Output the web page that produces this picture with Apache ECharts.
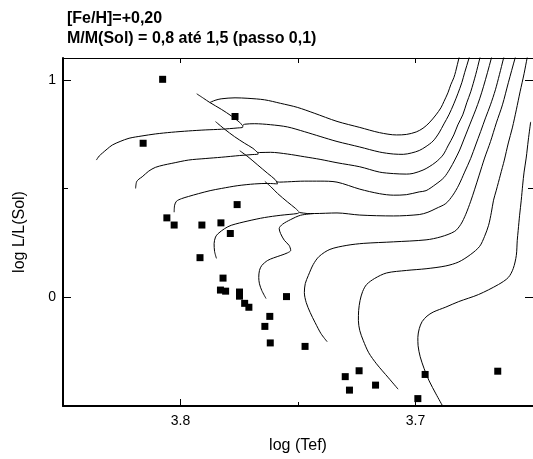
<!DOCTYPE html>
<html>
<head>
<meta charset="utf-8">
<script src="https://cdn.jsdelivr.net/npm/echarts@6/dist/echarts.min.js"></script>
<style>
html,body{margin:0;padding:0;background:#fff;}
#chart{width:533px;height:459px;}
</style>
</head>
<body>
<div id="chart"></div>
<script>
const titleLines = ['[Fe/H]=+0,20', 'M/M(Sol) = 0,8 até 1,5 (passo 0,1)'];
const xTickLabels = [3.8, 3.7];
const xMinorTicks = [3.75];
const yTickLabels = [0, 1];
const yMinorTicks = [0.5];

// observed stars [log Tef, log L/L(Sol)]
const stars = [
  [3.8076,1.002],[3.8159,0.708],[3.7768,0.831],[3.7759,0.426],[3.7909,0.332],[3.7828,0.342],
  [3.8058,0.365],[3.8027,0.332],[3.7788,0.293],[3.7917,0.182],[3.7819,0.088],[3.7830,0.033],
  [3.7808,0.028],[3.7749,0.024],[3.7749,0.005],[3.7727,-0.028],[3.7709,-0.046],[3.7549,0.003],
  [3.7620,-0.088],[3.7641,-0.134],[3.7618,-0.210],[3.7470,-0.226],[3.7299,-0.365],[3.7240,-0.338],
  [3.7281,-0.427],[3.7170,-0.404],[3.6959,-0.355],[3.6990,-0.466],[3.6650,-0.340]
];

// evolution tracks, one per mass
const track08 = [[3.6883,-0.503],[3.6913,-0.4444],[3.6942,-0.3844],[3.6963,-0.3290],[3.6980,-0.2737],[3.6989,-0.2229],[3.6990,-0.1846],[3.6984,-0.1445],[3.6972,-0.1121],[3.6951,-0.0868],[3.6925,-0.0683],[3.6871,-0.0452],[3.6816,-0.0199],[3.6732,0.0124],[3.6647,0.0586],[3.6605,0.0909],[3.6584,0.1324],[3.6571,0.1924],[3.6567,0.2616],[3.6563,0.3078],[3.6557,0.3770],[3.6550,0.4462],[3.6544,0.5154],[3.6538,0.5754],[3.6529,0.6400],[3.6520,0.7231],[3.6510,0.8062]];
const track09 = [[3.7074,-0.4227],[3.7115,-0.3706],[3.7166,-0.3060],[3.7199,-0.2552],[3.7222,-0.1998],[3.7237,-0.1537],[3.7243,-0.1075],[3.7242,-0.0614],[3.7236,-0.0152],[3.7225,0.0263],[3.7208,0.0586],[3.7174,0.0863],[3.7123,0.1117],[3.7039,0.1232],[3.6955,0.1311],[3.6871,0.1440],[3.6816,0.1624],[3.6765,0.1970],[3.6727,0.2340],[3.6706,0.2801],[3.6689,0.3309],[3.6677,0.3909],[3.6668,0.4462],[3.6656,0.4924],[3.6639,0.5616],[3.6622,0.6308],[3.6605,0.7093],[3.6588,0.7785],[3.6571,0.8616],[3.6555,0.9446],[3.6538,1.0277],[3.6525,1.1001],[3.6519,1.1292]];
const track10 = [[3.7376,-0.2044],[3.7402,-0.1675],[3.7427,-0.1168],[3.7448,-0.0706],[3.7465,-0.0245],[3.7473,0.0217],[3.7469,0.0632],[3.7456,0.1001],[3.7435,0.1509],[3.7410,0.1878],[3.7364,0.2201],[3.7292,0.2386],[3.7220,0.2478],[3.7094,0.2547],[3.6955,0.2639],[3.6892,0.2778],[3.6833,0.3032],[3.6807,0.3355],[3.6786,0.3816],[3.6765,0.4416],[3.6748,0.4970],[3.6729,0.5616],[3.6706,0.6400],[3.6681,0.7153],[3.6656,0.8016],[3.6630,0.8846],[3.6605,0.9862],[3.6576,1.1001],[3.6567,1.1292]];
const track11 = [[3.7847,0.1786],[3.7855,0.2109],[3.7857,0.2464],[3.7851,0.2769],[3.7840,0.2926],[3.7812,0.3156],[3.7784,0.3309],[3.7713,0.3507],[3.7643,0.3664],[3.7573,0.3770],[3.7503,0.3849],[3.7494,0.3895],[3.7461,0.3849],[3.7431,0.3849],[3.7334,0.3876],[3.7237,0.3779],[3.7094,0.3738],[3.6984,0.3802],[3.6947,0.3909],[3.6913,0.4079],[3.6871,0.4310],[3.6841,0.4693],[3.6816,0.5154],[3.6791,0.5754],[3.6765,0.6387],[3.6744,0.7000],[3.6723,0.7614],[3.6702,0.8246],[3.6681,0.8846],[3.6660,0.9538],[3.6643,1.0231],[3.6625,1.1001],[3.6618,1.1292]];
const track12 = [[3.8027,0.3909],[3.8025,0.4232],[3.8017,0.4416],[3.7996,0.4532],[3.7966,0.4633],[3.7924,0.4762],[3.7874,0.4901],[3.7826,0.5002],[3.7756,0.5131],[3.7685,0.5210],[3.7629,0.5233],[3.7587,0.5210],[3.7591,0.5316],[3.7579,0.5293],[3.7545,0.5307],[3.7473,0.5339],[3.7406,0.5339],[3.7334,0.5293],[3.7237,0.4970],[3.7153,0.4762],[3.7094,0.4693],[3.7039,0.4716],[3.6984,0.4845],[3.6955,0.4901],[3.6913,0.5201],[3.6879,0.5501],[3.6854,0.5893],[3.6833,0.6308],[3.6812,0.6770],[3.6795,0.7231],[3.6778,0.7693],[3.6761,0.8154],[3.6744,0.8616],[3.6727,0.9123],[3.6711,0.9677],[3.6694,1.0323],[3.6677,1.1001],[3.6670,1.1292]];
const track13 = [[3.8191,0.5002],[3.8187,0.5307],[3.8177,0.5431],[3.8163,0.5538],[3.8135,0.5801],[3.8107,0.5971],[3.8072,0.6077],[3.8037,0.6156],[3.7966,0.6308],[3.7895,0.6377],[3.7826,0.6437],[3.7748,0.6516],[3.7692,0.6562],[3.7669,0.6585],[3.7673,0.6664],[3.7663,0.6654],[3.7617,0.6664],[3.7545,0.6585],[3.7473,0.6460],[3.7406,0.6340],[3.7334,0.6184],[3.7237,0.5999],[3.7153,0.5754],[3.7094,0.5685],[3.7039,0.5662],[3.7010,0.5694],[3.6968,0.5847],[3.6942,0.5999],[3.6913,0.6216],[3.6883,0.6539],[3.6862,0.6954],[3.6837,0.7462],[3.6820,0.7923],[3.6799,0.8385],[3.6782,0.8939],[3.6765,0.9446],[3.6744,1.0231],[3.6726,1.1001],[3.6719,1.1292]];
const track14 = [[3.8358,0.6308],[3.8346,0.6493],[3.8332,0.6631],[3.8312,0.6816],[3.8290,0.7000],[3.8257,0.7162],[3.8219,0.7310],[3.8164,0.7416],[3.8107,0.7508],[3.8038,0.7586],[3.7966,0.7646],[3.7895,0.7693],[3.7826,0.7725],[3.7756,0.7785],[3.7735,0.7817],[3.7735,0.7900],[3.7726,0.7956],[3.7684,0.7979],[3.7617,0.7933],[3.7545,0.7831],[3.7473,0.7614],[3.7406,0.7393],[3.7334,0.7162],[3.7237,0.6908],[3.7153,0.6677],[3.7094,0.6585],[3.7052,0.6571],[3.7018,0.6631],[3.6984,0.6747],[3.6955,0.6931],[3.6925,0.7185],[3.6900,0.7554],[3.6879,0.7969],[3.6858,0.8385],[3.6837,0.8892],[3.6820,0.9354],[3.6803,0.9862],[3.6791,1.0323],[3.6772,1.1001],[3.6765,1.1292]];
const track15 = [[3.7875,0.8952],[3.7853,0.9054],[3.7827,0.9123],[3.7768,0.9169],[3.7713,0.9146],[3.7642,0.9077],[3.7574,0.8915],[3.7503,0.8731],[3.7431,0.8463],[3.7334,0.8085],[3.7237,0.7808],[3.7153,0.7568],[3.7081,0.7462],[3.7039,0.7485],[3.6997,0.7600],[3.6968,0.7771],[3.6942,0.8016],[3.6913,0.8385],[3.6892,0.8708],[3.6879,0.8999],[3.6862,0.9400],[3.6850,0.9769],[3.6837,1.0092],[3.6829,1.0383],[3.6815,1.1001],[3.6807,1.1292]];

// hook branches running down to the next track
const hook11 = [[3.7432,0.3849],[3.7489,0.3770],[3.7531,0.3572],[3.7566,0.3355],[3.7580,0.3156],[3.7574,0.2926],[3.7558,0.2616],[3.7538,0.2386],[3.7531,0.2155],[3.7545,0.2040],[3.7573,0.1924],[3.7604,0.1809],[3.7629,0.1693],[3.7654,0.1463],[3.7664,0.1232],[3.7667,0.0909],[3.7664,0.0618],[3.7654,0.0309],[3.7636,-0.0060]];
const hook12 = [[3.7641,0.5325],[3.7615,0.5076],[3.7587,0.4772],[3.7545,0.4384],[3.7510,0.4079],[3.7496,0.3932]];
const hook13 = [[3.7748,0.6737],[3.7713,0.6460],[3.7671,0.6077],[3.7629,0.5694],[3.7598,0.5418],[3.7589,0.5270]];
const hook14 = [[3.7851,0.8076],[3.7812,0.7725],[3.7770,0.7383],[3.7727,0.7079],[3.7692,0.6848],[3.7673,0.6664]];
const hook15 = [[3.7931,0.9354],[3.7903,0.9155],[3.7875,0.8952],[3.7826,0.8639],[3.7784,0.8339],[3.7748,0.8039],[3.7737,0.7900]];

const masses = ['0,8','0,9','1,0','1,1','1,2','1,3','1,4','1,5'];
const tracks = [[track08],[track09],[track10],[track11,hook11],[track12,hook12],[track13,hook13],[track14,hook14],[track15,hook15]];

const font = "'Liberation Sans', Arial, sans-serif";
const X_MIN = 3.65, X_MAX = 3.85, Y_MIN = -0.5, Y_MAX = 1.1;

const xBase = {type:'value', min:X_MIN, max:X_MAX, inverse:true, interval:0.05, splitLine:{show:false}};
const yBase = {type:'value', min:Y_MIN, max:Y_MAX, interval:0.5, splitLine:{show:false}};

const buildSeries = () => {
  const list = [];
  tracks.forEach((pieces, i) => {
    pieces.forEach(piece => {
      list.push({
        type:'line', name:masses[i], data:piece, symbol:'none', smooth:0.3,
        lineStyle:{color:'#000', width:1}, silent:true, z:2
      });
    });
  });
  list.push({
    type:'scatter', name:'estrelas', data:stars, symbol:'rect', symbolSize:7,
    itemStyle:{color:'#000', opacity:1}, z:3
  });
  return list;
};

const getOption = () => {
  return {
    animation:false,
    title:{
      text:titleLines.join('\n'), left:62, top:4,
      textStyle:{fontFamily:font, fontSize:16, fontWeight:'bold', color:'#000', lineHeight:20}
    },
    grid:{left:63, right:-5, top:58, bottom:53, containLabel:false},
    xAxis:[
      Object.assign({}, xBase, {
        position:'bottom',
        axisLine:{onZero:false, lineStyle:{color:'#000', width:2}},
        axisTick:{inside:true, length:7, customValues:xTickLabels, lineStyle:{color:'#000'}},
        axisLabel:{customValues:xTickLabels, formatter:v => v.toFixed(1), color:'#000', fontSize:14, fontFamily:font, margin:8},
        name:'log (Tef)', nameLocation:'middle', nameGap:32,
        nameTextStyle:{fontFamily:font, fontSize:16, color:'#000'}
      }),
      Object.assign({}, xBase, {
        position:'bottom', axisLine:{show:false, onZero:false},
        axisTick:{inside:true, length:4, customValues:xMinorTicks, lineStyle:{color:'#000'}},
        axisLabel:{show:false}
      }),
      Object.assign({}, xBase, {
        position:'top',
        axisLine:{onZero:false, lineStyle:{color:'#000', width:1}},
        axisTick:{inside:true, length:5, customValues:xTickLabels.concat(xMinorTicks), lineStyle:{color:'#000'}},
        axisLabel:{show:false}
      })
    ],
    yAxis:[
      Object.assign({}, yBase, {
        position:'left',
        axisLine:{show:true, onZero:false, lineStyle:{color:'#000', width:2}},
        axisTick:{show:true, inside:true, length:8, customValues:yTickLabels, lineStyle:{color:'#000'}},
        axisLabel:{customValues:yTickLabels, formatter:v => String(Math.round(v)), color:'#000', fontSize:14, fontFamily:font, margin:7},
        name:'log L/L(Sol)', nameLocation:'middle', nameGap:35,
        nameTextStyle:{fontFamily:font, fontSize:16, color:'#000'}
      }),
      Object.assign({}, yBase, {
        position:'left', axisLine:{show:false, onZero:false},
        axisTick:{show:true, inside:true, length:5, customValues:yMinorTicks, lineStyle:{color:'#000'}},
        axisLabel:{show:false}
      }),
      Object.assign({}, yBase, {
        position:'right',
        axisLine:{show:true, onZero:false, lineStyle:{color:'#000', width:1}},
        axisTick:{show:true, inside:true, length:8, customValues:yTickLabels, lineStyle:{color:'#000'}},
        axisLabel:{show:false}
      }),
      Object.assign({}, yBase, {
        position:'right', axisLine:{show:false, onZero:false},
        axisTick:{show:true, inside:true, length:5, customValues:yMinorTicks, lineStyle:{color:'#000'}},
        axisLabel:{show:false}
      })
    ],
    series:buildSeries()
  };
};

window.addEventListener('load', () => {
  const chart = echarts.init(document.getElementById('chart'), null, {renderer:'canvas'});
  chart.setOption(getOption());
});
</script>
</body>
</html>
